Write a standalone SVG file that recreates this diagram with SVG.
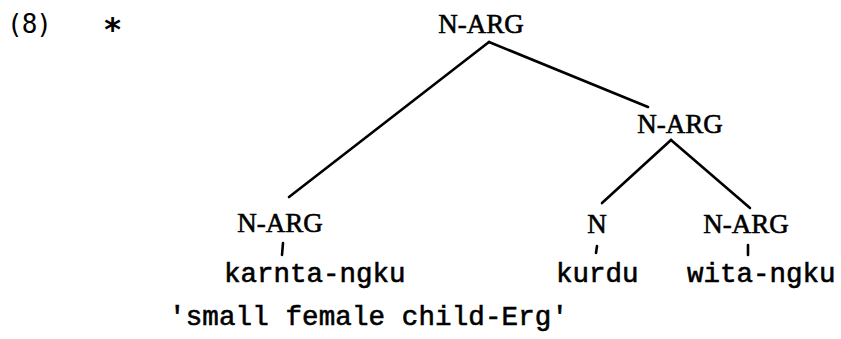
<svg xmlns="http://www.w3.org/2000/svg" width="841" height="339" viewBox="0 0 841 339">
<style>
.cat{font-family:"Liberation Serif","Times New Roman",serif;font-size:27px;fill:#000;stroke:#000;stroke-width:0.6;text-anchor:middle}
.word{font-family:"Liberation Mono","Courier New",monospace;font-size:27.5px;fill:#000;stroke:#000;stroke-width:0.6}
.num{font-family:"DejaVu Sans Mono",monospace;font-size:26px;fill:#000}
.edge{stroke:#000;stroke-width:2.6;fill:none;stroke-linecap:round}
</style>
<rect width="841" height="339" fill="#fff"/>
<g id="label">
<text class="num" x="7" y="33" letter-spacing="-1">(8)</text>
<text class="num" x="103" y="40" style="font-size:32px;font-weight:bold">*</text>
</g>
<g id="connectors">
<line class="edge" x1="489" y1="42" x2="289" y2="197"/>
<line class="edge" x1="489" y1="42" x2="648" y2="107"/>
<line class="edge" x1="671" y1="140" x2="602" y2="203"/>
<line class="edge" x1="671" y1="140" x2="750" y2="208"/>
<line class="edge" x1="283" y1="243" x2="282" y2="255"/>
<line class="edge" x1="597" y1="246" x2="596" y2="253"/>
<line class="edge" x1="748" y1="245" x2="748" y2="255"/>
</g>
<g id="n-root"><text class="cat" x="481" y="33">N-ARG</text></g>
<g id="n-mid"><text class="cat" x="680" y="133">N-ARG</text></g>
<g id="n-left"><text class="cat" x="280" y="232">N-ARG</text></g>
<g id="n-n"><text class="cat" x="597" y="233">N</text></g>
<g id="n-right"><text class="cat" x="746" y="233">N-ARG</text></g>
<g id="w-karnta"><text class="word" x="224" y="282">karnta-ngku</text></g>
<g id="w-kurdu"><text class="word" x="556" y="282">kurdu</text></g>
<g id="w-wita"><text class="word" x="687" y="282">wita-ngku</text></g>
<g id="gloss"><text class="word" x="169" y="325" textLength="399" lengthAdjust="spacing">'small female child-Erg'</text></g>
</svg>
